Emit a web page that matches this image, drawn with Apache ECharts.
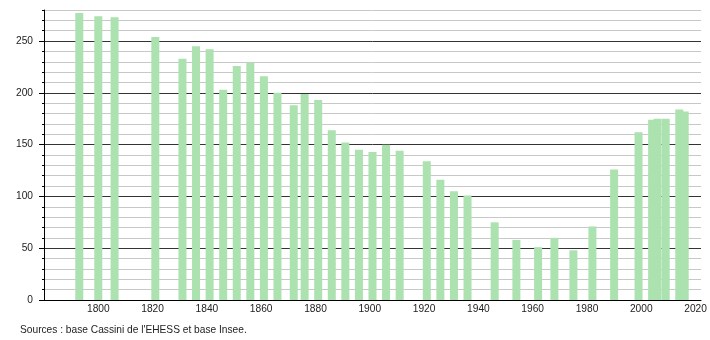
<!DOCTYPE html>
<html>
<head>
<meta charset="utf-8">
<script src="https://cdn.jsdelivr.net/npm/echarts@6/dist/echarts.min.js"></script>
<style>
html,body{margin:0;padding:0;background:#fff;}
#chart{width:710px;height:340px;}
</style>
</head>
<body>
<div id="chart"></div>
<script>
const years = [1793,1800,1806,1821,1831,1836,1841,1846,1851,1856,1861,1866,1872,1876,1881,1886,1891,1896,1901,1906,1911,1921,1926,1931,1936,1946,1954,1962,1968,1975,1982,1990,1999,2004,2006,2009,2014,2016];
const population = [277,274,273,254,233,245,242,203,226,229,216,200,188,199,193,164,152,145,143,150,144,134,116,105,101,75,58,51,60,48,71,126,162,174,175,175,184,182];
const yMajorTicks = [0,50,100,150,200,250];
const sourceText = "Sources : base Cassini de l'EHESS et base Insee.";

const chart = echarts.init(document.getElementById('chart'), null, {renderer:'canvas'});
const font = '"Liberation Sans", Arial, Helvetica, sans-serif';
const fs = 10.2;
chart.setOption({
  animation:false,
  backgroundColor:'#fff',
  textStyle:{fontFamily:font},
  grid:{left:44, right:9, top:10, bottom:40, containLabel:false},
  xAxis:{
    type:'value', min:1780, max:2022, interval:20,
    axisLine:{show:true, lineStyle:{color:'#000', width:1}},
    axisTick:{show:false},
    splitLine:{show:false},
    axisLabel:{show:true, showMinLabel:false, showMaxLabel:false, fontSize:fs, color:'#222', fontFamily:font, margin:4,
      formatter:function(v){ return (v % 20 === 0 && v>=1800 && v<=2020) ? String(v) : ''; }}
  },
  yAxis:[{
    type:'value', min:0, max:280, interval:10,
    axisLine:{show:true, lineStyle:{color:'#000', width:1}},
    axisTick:{show:true, length:2, lineStyle:{color:'#000'}},
    splitLine:{show:true, lineStyle:{color:['#333','#c8c8c8','#c8c8c8','#c8c8c8','#c8c8c8'], width:1}},
    axisLabel:{fontSize:fs, color:'#222', fontFamily:font, margin:11,
      formatter:function(v){ return yMajorTicks.indexOf(v) >= 0 ? String(v) : ''; }}
  },{
    type:'value', min:0, max:280, position:'left',
    axisLine:{show:false},
    axisTick:{show:true, length:5, lineStyle:{color:'#000'}, customValues:yMajorTicks},
    axisLabel:{show:false},
    splitLine:{show:false}
  }],
  series:[{
    type:'bar',
    yAxisIndex:0,
    barWidth:8,
    itemStyle:{color:'#abe2af'},
    data: years.map(function(y,i){ return [y, population[i]]; })
  }],
  graphic:[{
    type:'text', left:20, top:325,
    style:{text:sourceText, fill:'#222', font:fs + 'px ' + font}
  }]
});
</script>
</body>
</html>
